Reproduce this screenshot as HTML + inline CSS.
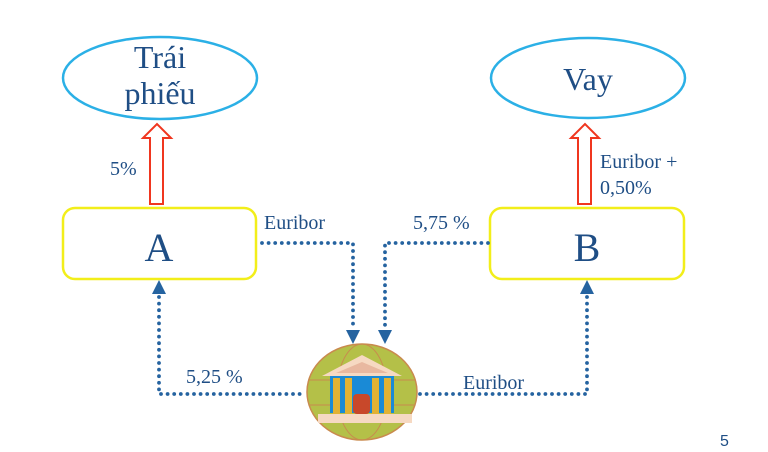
<!DOCTYPE html>
<html><head><meta charset="utf-8"><style>
body{margin:0;background:#fff;width:768px;height:452px;overflow:hidden}
svg{display:block}
text{font-family:"Liberation Serif",serif;fill:#1f4e85}
</style></head><body>
<svg width="768" height="452" viewBox="0 0 768 452">
<ellipse cx="160" cy="78" rx="97" ry="41" fill="#fff" stroke="#2bb0e6" stroke-width="2.5"/>
<text x="160" y="68" font-size="32" text-anchor="middle">Trái</text>
<text x="160" y="104" font-size="32" text-anchor="middle">phiếu</text>
<ellipse cx="588" cy="78" rx="97" ry="40" fill="#fff" stroke="#2bb0e6" stroke-width="2.5"/>
<text x="588" y="90" font-size="32" text-anchor="middle">Vay</text>
<polygon points="150,204 163,204 163,138 171,138 157,124 143,138 150,138" fill="#fff" stroke="#f0361f" stroke-width="2"/>
<polygon points="578,204 591,204 591,138 599,138 585,124 571,138 578,138" fill="#fff" stroke="#f0361f" stroke-width="2"/>
<text x="110" y="175" font-size="20">5%</text>
<text x="600" y="168" font-size="20">Euribor +</text>
<text x="600" y="194" font-size="20">0,50%</text>
<rect x="63" y="208" width="193" height="71" rx="12" fill="#fff" stroke="#f2ee1a" stroke-width="2.5"/>
<text x="159" y="261" font-size="40" text-anchor="middle">A</text>
<rect x="490" y="208" width="194" height="71" rx="12" fill="#fff" stroke="#f2ee1a" stroke-width="2.5"/>
<text x="587" y="261" font-size="40" text-anchor="middle">B</text>
<g fill="none" stroke="#2563a0" stroke-width="3.8" stroke-linecap="round" stroke-dasharray="0 6.6">
<path d="M262 243 H353 V328"/>
<path d="M488 243 H385 V328"/>
<path d="M159 297 V394 H305"/>
<path d="M420 394 H587 V297"/>
</g>
<g fill="#2563a0">
<polygon points="346,330 360,330 353,344"/>
<polygon points="378,330 392,330 385,344"/>
<polygon points="152,294 166,294 159,280"/>
<polygon points="580,294 594,294 587,280"/>
</g>
<text x="264" y="229" font-size="20">Euribor</text>
<text x="413" y="229" font-size="20">5,75 %</text>
<text x="186" y="383" font-size="20">5,25 %</text>
<text x="463" y="389" font-size="20">Euribor</text>
<ellipse cx="362" cy="392" rx="55" ry="48" fill="#b4c048" stroke="#c98a4e" stroke-width="1.5"/>
<g stroke="#c98a4e" stroke-width="1" fill="none"><ellipse cx="362" cy="392" rx="25" ry="48"/><path d="M308 380 H416 M310 405 H414"/></g>
<rect x="330" y="375" width="64" height="38" fill="#1a8ad6"/>
<polygon points="362,355 322,376 402,376" fill="#f6d9c2"/>
<polygon points="362,362 336,373 388,373" fill="#e8b8a0"/>
<rect x="333" y="378" width="7" height="36" fill="#e2b234"/><rect x="345" y="378" width="7" height="36" fill="#e2b234"/>
<rect x="372" y="378" width="7" height="36" fill="#e2b234"/><rect x="384" y="378" width="7" height="36" fill="#e2b234"/>
<rect x="353" y="394" width="17" height="20" rx="4" fill="#c8482a"/>
<rect x="318" y="414" width="94" height="9" fill="#f6d9c2"/>
<text x="720" y="446" font-size="16" style="font-family:'Liberation Sans',sans-serif" fill="#1f4e85">5</text>
</svg>
</body></html>
